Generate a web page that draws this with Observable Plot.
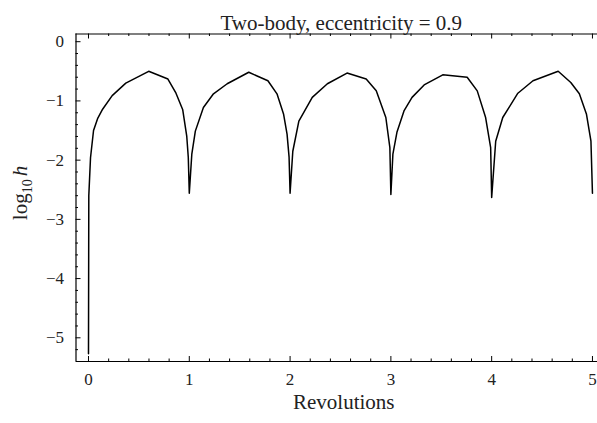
<!DOCTYPE html>
<html>
<head>
<meta charset="utf-8">
<script src="https://cdn.jsdelivr.net/npm/d3@7"></script>
<script src="https://cdn.jsdelivr.net/npm/@observablehq/plot@0.6"></script>
<style>
  html, body { margin: 0; padding: 0; background: #fff; }
  svg { display: block; }
  svg, svg text, svg tspan { font-family: "Liberation Serif", "Times New Roman", Times, serif !important; }
</style>
</head>
<body>
<div id="chart"></div>
<script>
// Revolutions (x) and log10 step size h (y)
const revs = [
  0, 0.003, 0.02, 0.05, 0.09, 0.14, 0.235, 0.37, 0.597, 0.788, 0.868, 0.935, 0.975, 0.99, 1.0,
  1.025, 1.06, 1.14, 1.24, 1.376, 1.59, 1.78, 1.87, 1.935, 1.97, 1.99, 2.0,
  2.027, 2.087, 2.22, 2.37, 2.565, 2.755, 2.855, 2.95, 2.99, 3.0,
  3.02, 3.06, 3.13, 3.21, 3.33, 3.515, 3.757, 3.857, 3.94, 3.99, 4.0,
  4.04, 4.11, 4.26, 4.41, 4.66, 4.785, 4.87, 4.94, 4.985, 5.0
];
const logh = [
  -5.27, -2.6, -1.96, -1.5, -1.3, -1.14, -0.91, -0.70, -0.50, -0.63, -0.87, -1.15, -1.6, -1.95, -2.56,
  -1.9, -1.51, -1.11, -0.88, -0.71, -0.516, -0.66, -0.88, -1.22, -1.56, -1.95, -2.56,
  -1.85, -1.34, -0.94, -0.71, -0.53, -0.63, -0.83, -1.28, -1.79, -2.58,
  -1.9, -1.53, -1.17, -0.94, -0.73, -0.56, -0.60, -0.83, -1.28, -1.79, -2.63,
  -1.68, -1.28, -0.87, -0.66, -0.50, -0.69, -0.88, -1.22, -1.68, -2.56
];

const xMajor = [0, 1, 2, 3, 4, 5];
const yMajor = [0, -1, -2, -3, -4, -5];
const xDomain = [-0.124, 5.05];
const yDomain = [-5.40, 0.13];

const title = "Two-body, eccentricity = 0.9";
const xLabel = "Revolutions";

const W = 597, H = 423;
const mL = 75.5, mR = 0, mT = 33.5, mB = 62;
const pw = W - mL - mR, ph = H - mT - mB;

const xMinor = d3.range(0, 5.001, 0.2).map(v => +v.toFixed(1)).filter(v => !xMajor.includes(v));
const yMinor = d3.range(0, -5.3, -0.2).map(v => +v.toFixed(1)).filter(v => !yMajor.includes(v));

const font = "'Liberation Serif', 'Times New Roman', serif";

const chart = Plot.plot({
  width: W, height: H,
  marginLeft: mL, marginRight: mR, marginTop: mT, marginBottom: mB,
  style: { fontFamily: font, background: "#fff", color: "#222" },
  x: { domain: xDomain },
  y: { domain: yDomain },
  marks: [
    // frame lines
    Plot.ruleX([xDomain[0]], { stroke: "#000", strokeWidth: 1.2 }),
    Plot.ruleY([yDomain[0], yDomain[1]], { stroke: "#000", strokeWidth: 1.2 }),
    // ticks bottom (inward)
    Plot.tickX(xMajor, { x: d => d, insetTop: ph - 5, stroke: "#000" }),
    Plot.tickX(xMinor, { x: d => d, insetTop: ph - 2.5, stroke: "#000" }),
    // ticks top (inward)
    Plot.tickX(xMajor, { x: d => d, insetBottom: ph - 5, stroke: "#000" }),
    Plot.tickX(xMinor, { x: d => d, insetBottom: ph - 2.5, stroke: "#000" }),
    // ticks left (inward)
    Plot.tickY(yMajor, { y: d => d, insetRight: pw - 5, stroke: "#000" }),
    Plot.tickY(yMinor, { y: d => d, insetRight: pw - 2.5, stroke: "#000" }),
    // axes labels only
    Plot.axisX(xMajor, { tickSize: 0, tickPadding: 11, fontSize: 17, label: null, tickFormat: "d" }),
    Plot.axisY(yMajor, { tickSize: 0, tickPadding: 12, fontSize: 17, label: null, tickFormat: "d" }),
    // curve
    Plot.line(revs, { x: revs, y: logh, stroke: "#000", strokeWidth: 1.5, curve: "linear" }),
    // title & x label
    Plot.text([title], { frameAnchor: "top", dx: 4.5, dy: -19, fontSize: 21, fill: "#222" }),
    Plot.text([xLabel], { frameAnchor: "bottom", dx: 7, dy: 47, fontSize: 21, fill: "#222" })
  ]
});

// y axis label with subscript and italic h
const svg = d3.select(chart);
const yl = svg.append("text")
  .attr("transform", "translate(27,193) rotate(-90)")
  .attr("text-anchor", "middle")
  .attr("font-size", 21)
  .attr("fill", "#222");
yl.append("tspan").text("log");
yl.append("tspan").attr("font-size", 14).attr("dy", 5).text("10");
yl.append("tspan").attr("dy", -5).attr("dx", 3).attr("font-style", "italic").text("h");

document.getElementById("chart").appendChild(chart);
</script>
</body>
</html>
